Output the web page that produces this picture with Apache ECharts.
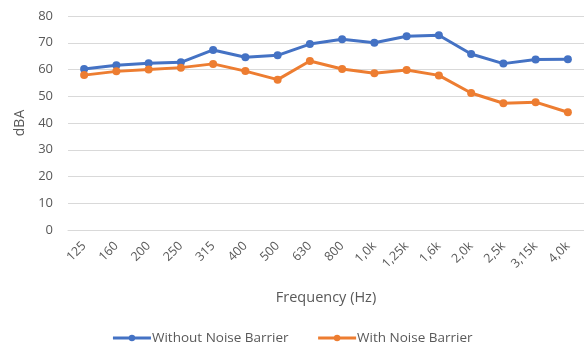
<!DOCTYPE html>
<html><head><meta charset="utf-8">
<script src="https://cdn.jsdelivr.net/npm/echarts@6/dist/echarts.min.js"></script>
<style>html,body{margin:0;padding:0;background:#fff}#c{width:584px;height:342px}</style>
</head><body><div id="c"></div>
<script>
const categories = ['125','160','200','250','315','400','500','630','800','1,0k','1,25k','1,6k','2,0k','2,5k','3,15k','4,0k'];
const withoutBarrier = [60.2,61.6,62.3,62.7,67.3,64.6,65.3,69.5,71.3,70.0,72.4,72.8,65.8,62.2,63.7,63.8];
const withBarrier = [57.9,59.3,60.0,60.7,62.1,59.4,56.2,63.2,60.2,58.6,59.8,57.8,51.2,47.4,47.8,44.0];
const yTicks = {min:0,max:80,interval:10};
const seriesNames = ['Without Noise Barrier','With Noise Barrier'];
const colors = ['#4472C4','#ED7D31'];
const FONT = 'Open Sans';
const chart = echarts.init(document.getElementById('c'));
chart.setOption({
  animation:false,
  textStyle:{fontFamily:FONT},
  grid:{left:68,right:-2,top:16,bottom:112,containLabel:false},
  legend:{
    data:seriesNames, left:'center', top:326, itemWidth:38, itemHeight:8, itemGap:28,
    lineStyle:{width:3},
    textStyle:{color:'#595959',fontSize:13.5,fontFamily:FONT,padding:[0,0,0,-4]}
  },
  xAxis:{
    type:'category', data:categories, boundaryGap:true,
    axisLine:{lineStyle:{color:'#D9D9D9'}}, axisTick:{show:false},
    axisLabel:{rotate:45,color:'#595959',fontSize:12.5,margin:14,interval:0},
    name:'Frequency (Hz)', nameLocation:'middle', nameGap:60,
    nameTextStyle:{color:'#595959',fontSize:14.5}
  },
  yAxis:{
    type:'value', min:yTicks.min, max:yTicks.max, interval:yTicks.interval,
    axisLine:{show:false}, axisTick:{show:false},
    axisLabel:{color:'#595959',fontSize:13,margin:15},
    splitLine:{lineStyle:{color:'#D9D9D9'}},
    name:'dBA', nameLocation:'middle', nameGap:38,
    nameTextStyle:{color:'#595959',fontSize:14}
  },
  series:[
    {name:seriesNames[0],type:'line',data:withoutBarrier,color:colors[0],symbol:'circle',symbolSize:8,lineStyle:{width:3}},
    {name:seriesNames[1],type:'line',data:withBarrier,color:colors[1],symbol:'circle',symbolSize:8,lineStyle:{width:3}}
  ]
});
</script></body></html>
